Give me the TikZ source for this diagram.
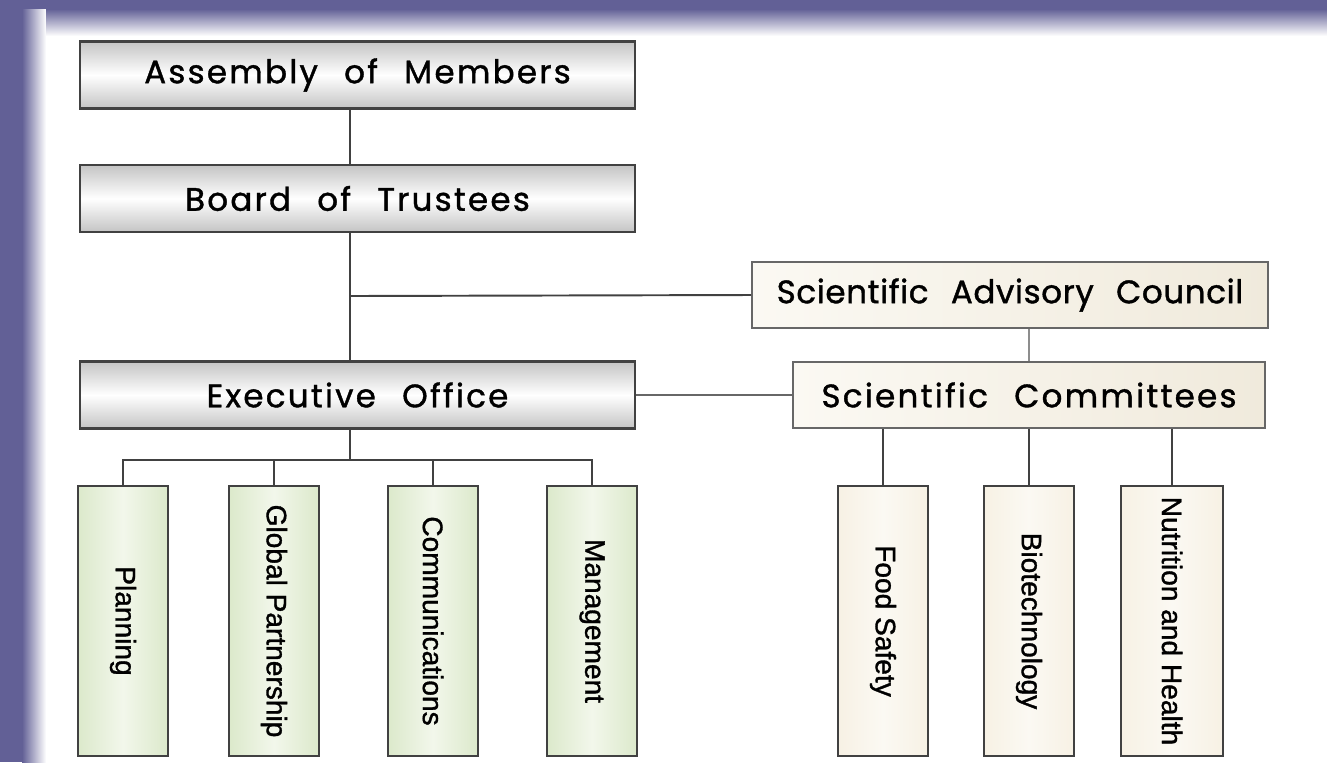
\documentclass[tikz,border=0pt]{standalone}
\usepackage{fontspec}
\setmainfont{Poppins}
\newfontfamily\boxfont[WordSpace=2.4, LetterSpace=7, FakeBold=1.2]{Poppins}
\newfontfamily\unitfont[FakeBold=1.2]{Liberation Sans}
\definecolor{framecol}{RGB}{98,96,150}
\definecolor{linecol}{RGB}{65,65,65}
\definecolor{greyedge}{RGB}{196,196,196}
\definecolor{cream}{RGB}{251,249,243}
\definecolor{creamdark}{RGB}{240,234,220}
\definecolor{leafgreen}{RGB}{220,233,203}
\definecolor{leaflight}{RGB}{242,247,235}
\definecolor{leafcream}{RGB}{247,241,228}
\tikzstyle{office} = [rectangle, minimum width=11.1cm, minimum height=1.34cm, draw=linecol, line width=1.2pt, top color=greyedge, bottom color=greyedge, middle color=white, font=\boxfont\fontsize{18.5}{21}\selectfont]
\tikzstyle{council} = [rectangle, minimum height=1.32cm, inner sep=2pt, draw=linecol!80, line width=1.2pt, left color=cream, right color=creamdark, font=\boxfont\fontsize{18.5}{21}\selectfont]
\tikzstyle{unit} = [rectangle, minimum width=1.8cm, minimum height=5.4cm, draw=linecol, line width=1.1pt, left color=leafgreen, right color=leafgreen, middle color=leaflight, font=\unitfont\fontsize{16}{19}\selectfont]
\tikzstyle{panel} = [unit, left color=leafcream, right color=leafcream, middle color=cream]
\tikzstyle{link} = [draw=linecol, line width=1.1pt]

\begin{document}
\begin{tikzpicture}[x=0.02cm, y=-0.02cm]
    % page and frame
    \useasboundingbox (0,0) rectangle (1327,762);
    \fill [white] (0,0) rectangle (1327,762);
    \fill [framecol] (0,0) rectangle (22,762);
    \shade [left color=framecol, right color=white] (22,0) rectangle (46,762);
    \fill [framecol] (0,0) rectangle (1327,9);
    \shade [top color=framecol, bottom color=white] (46,9) rectangle (1327,36);
    \node (assembly) [office] at (357.5,75) {Assembly of Members};
    \node (board) [office] at (357.5,198.5) {Board of Trustees};
    \node (exec) [office] at (357.5,395) {Executive Office};
    \node (advisory) [council, minimum width=10.32cm] at (1010,295) {\addfontfeature{LetterSpace=2}Scientific Advisory Council};
    \node (committees) [council, minimum width=9.44cm] at (1029,395) {Scientific Committees};
    \node (planning) [unit] at (123,621) {\rotatebox{-90}{Planning}};
    \node (global) [unit] at (274,621) {\rotatebox{-90}{Global Partnership}};
    \node (comms) [unit] at (433,621) {\rotatebox{-90}{Communications}};
    \node (manage) [unit] at (592,621) {\rotatebox{-90}{Management}};
    \node (food) [panel] at (883,621) {\rotatebox{-90}{Food Safety}};
    \node (biotech) [panel] at (1029,621) {\rotatebox{-90}{Biotechnology}};
    \node (nutrition) [panel, minimum width=2.04cm] at (1172,621) {\rotatebox{-90}{Nutrition and Health}};
    \coordinate (split) at (350,296);
    \coordinate (comb) at (350,460);
    \draw [link] (assembly.south -| split) -- (board.north -| split);
    \draw [link] (board.south -| split) -- (exec.north -| split);
    \draw [link] (split) -- (advisory.west);
    \draw [link, draw=linecol!60] (committees.north) -- (committees.north |- advisory.south);
    \draw [link, draw=linecol!80] (exec.east) -- (committees.west);
    \draw [link] (exec.south -| comb) -- (comb);
    \draw [link] (planning.north) |- (comb) -| (manage.north);
    \draw [link] (global.north) -- (global.north |- comb);
    \draw [link] (comms.north) -- (comms.north |- comb);
    \draw [link] (food.north) -- (food.north |- committees.south);
    \draw [link] (biotech.north) -- (committees.south);
    \draw [link] (nutrition.north) -- (nutrition.north |- committees.south);
\end{tikzpicture}
\end{document}
